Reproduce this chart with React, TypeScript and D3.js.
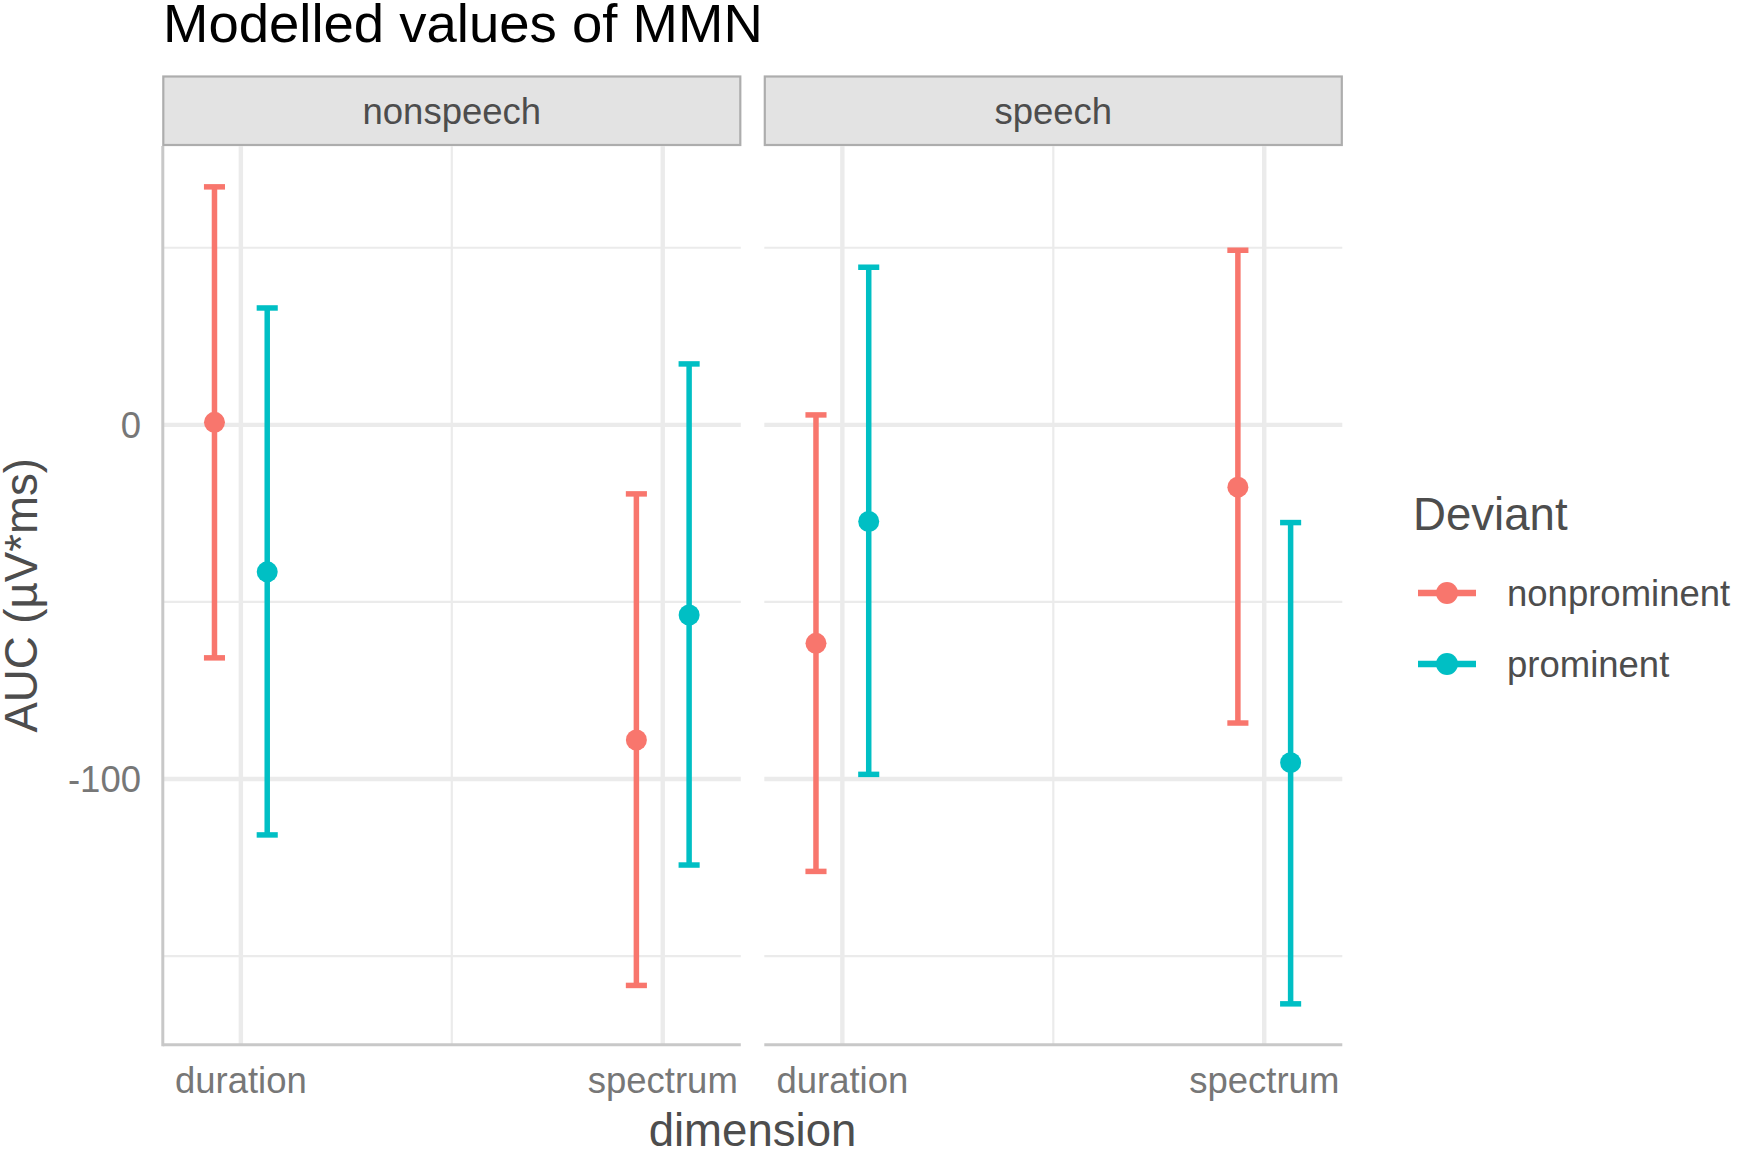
import React from "react";
import * as d3 from "d3";

// ---- data ----
const facets = ["nonspeech", "speech"];
const dimensions = ["duration", "spectrum"];
const deviants = ["nonprominent", "prominent"];

const rowFacet = ["nonspeech", "nonspeech", "nonspeech", "nonspeech", "speech", "speech", "speech", "speech"];
const rowDimension = ["duration", "duration", "spectrum", "spectrum", "duration", "duration", "spectrum", "spectrum"];
const rowDeviant = ["nonprominent", "prominent", "nonprominent", "prominent", "nonprominent", "prominent", "nonprominent", "prominent"];
const estimate = [0.7, -41.5, -89.0, -53.7, -61.7, -27.3, -17.6, -95.4];
const lower = [-65.8, -115.8, -158.3, -124.3, -126.1, -98.7, -84.2, -163.5];
const upper = [67.2, 33.0, -19.5, 17.2, 2.8, 44.5, 49.3, -27.6];

const yMajorTicks = [-100, 0];
const yMinorTicks = [-150, -50, 50];
const colors = ["#F8766D", "#00BFC4"];

const title = "Modelled values of MMN";
const xTitle = "dimension";
const yTitle = "AUC (\u00B5V*ms)";
const legendTitle = "Deviant";

// ---- layout ----
const W = 1737;
const H = 1150;
const FONT = "'Liberation Sans', Arial, Helvetica, sans-serif";
const panelLefts = [162.8, 764.3];
const panelW = 578;
const panelTop = 146;
const panelBottom = 1044.7;
const stripTop = 76.5;

export default function App() {
  const lo = d3.min(lower) as number;
  const hi = d3.max(upper) as number;
  const pad = (hi - lo) * 0.05;
  const y = d3.scaleLinear().domain([lo - pad, hi + pad]).range([panelBottom, panelTop]);
  const xBand = d3.scaleLinear().domain([0.815, 2.185]).range([0, panelW]);
  const dodge = d3.scaleOrdinal<string, number>().domain(deviants).range([-0.0625, 0.0625]);
  const color = d3.scaleOrdinal<string, string>().domain(deviants).range(colors);
  const capHalf = xBand(1.025) - xBand(1);

  const rows = estimate.map((e, i) => ({
    facet: rowFacet[i],
    dim: rowDimension[i],
    dev: rowDeviant[i],
    est: e,
    lo: lower[i],
    hi: upper[i],
  }));

  return (
    <svg
      width={W}
      height={H}
      style={{ position: "absolute", left: 0, top: 0, background: "#fff" }}
      fontFamily={FONT}
    >
      <rect x={0} y={0} width={W} height={H} fill="#fff" />
      <text x={163} y={42} fontSize={54.5} fill="#000">
        {title}
      </text>

      {facets.map((f, fi) => {
        const x0 = panelLefts[fi];
        return (
          <g key={f}>
            {/* strip */}
            <rect
              x={x0 + 0.5}
              y={stripTop}
              width={panelW - 1}
              height={panelTop - stripTop - 1}
              fill="#e3e3e3"
              stroke="#adadad"
              strokeWidth={2.2}
            />
            <text
              x={x0 + panelW / 2}
              y={(stripTop + panelTop) / 2}
              dy="0.36em"
              textAnchor="middle"
              fontSize={36.5}
              fill="#4d4d4d"
            >
              {f}
            </text>
            {/* minor grid */}
            {yMinorTicks.map((t) => (
              <line key={"hm" + t} x1={x0} x2={x0 + panelW} y1={y(t)} y2={y(t)} stroke="#ebebeb" strokeWidth={2.2} />
            ))}
            <line x1={x0 + xBand(1.5)} x2={x0 + xBand(1.5)} y1={panelTop} y2={panelBottom} stroke="#ebebeb" strokeWidth={2.2} />
            {/* major grid */}
            {yMajorTicks.map((t) => (
              <line key={"hM" + t} x1={x0} x2={x0 + panelW} y1={y(t)} y2={y(t)} stroke="#ebebeb" strokeWidth={4.4} />
            ))}
            {dimensions.map((d, di) => (
              <line
                key={"vM" + d}
                x1={x0 + xBand(di + 1)}
                x2={x0 + xBand(di + 1)}
                y1={panelTop}
                y2={panelBottom}
                stroke="#ebebeb"
                strokeWidth={4.4}
              />
            ))}
            {/* axis lines */}
            <line x1={x0} x2={x0 + panelW} y1={panelBottom} y2={panelBottom} stroke="#c8c8c8" strokeWidth={3} />
            {fi === 0 && (
              <line x1={x0} x2={x0} y1={panelTop} y2={panelBottom + 1.5} stroke="#c8c8c8" strokeWidth={3} />
            )}
            {/* x tick labels */}
            {dimensions.map((d, di) => (
              <text
                key={"xl" + d}
                x={x0 + xBand(di + 1)}
                y={1093}
                textAnchor="middle"
                fontSize={36.5}
                fill="#777"
              >
                {d}
              </text>
            ))}
            {/* error bars and points */}
            {rows
              .filter((r) => r.facet === f)
              .map((r, i) => {
                const cx = x0 + xBand(dimensions.indexOf(r.dim) + 1 + dodge(r.dev));
                const c = color(r.dev);
                return (
                  <g key={"r" + i}>
                    <line x1={cx} x2={cx} y1={y(r.lo)} y2={y(r.hi)} stroke={c} strokeWidth={5.5} />
                    <line x1={cx - capHalf} x2={cx + capHalf} y1={y(r.lo)} y2={y(r.lo)} stroke={c} strokeWidth={5.5} />
                    <line x1={cx - capHalf} x2={cx + capHalf} y1={y(r.hi)} y2={y(r.hi)} stroke={c} strokeWidth={5.5} />
                    <circle cx={cx} cy={y(r.est)} r={10.5} fill={c} />
                  </g>
                );
              })}
          </g>
        );
      })}

      {/* y tick labels */}
      {yMajorTicks.map((t) => (
        <text key={"yl" + t} x={141} y={y(t)} dy="0.36em" textAnchor="end" fontSize={36.5} fill="#777">
          {t}
        </text>
      ))}

      {/* axis titles */}
      <text x={(panelLefts[0] + panelLefts[1] + panelW) / 2} y={1146} textAnchor="middle" fontSize={45.6} fill="#4d4d4d">
        {xTitle}
      </text>
      <text
        transform={`translate(37, ${(panelTop + panelBottom) / 2}) rotate(-90)`}
        textAnchor="middle"
        fontSize={45.6}
        fill="#4d4d4d"
      >
        {yTitle}
      </text>

      {/* legend */}
      <text x={1413} y={530} fontSize={45.6} fill="#4d4d4d">
        {legendTitle}
      </text>
      {deviants.map((d, i) => {
        const cy = 593 + i * 71;
        return (
          <g key={"lg" + d}>
            <line x1={1418} x2={1476} y1={cy} y2={cy} stroke={color(d)} strokeWidth={6.5} />
            <circle cx={1447} cy={cy} r={11} fill={color(d)} />
            <text x={1507} y={cy} dy="0.36em" fontSize={36.5} fill="#4d4d4d">
              {d}
            </text>
          </g>
        );
      })}
    </svg>
  );
}
